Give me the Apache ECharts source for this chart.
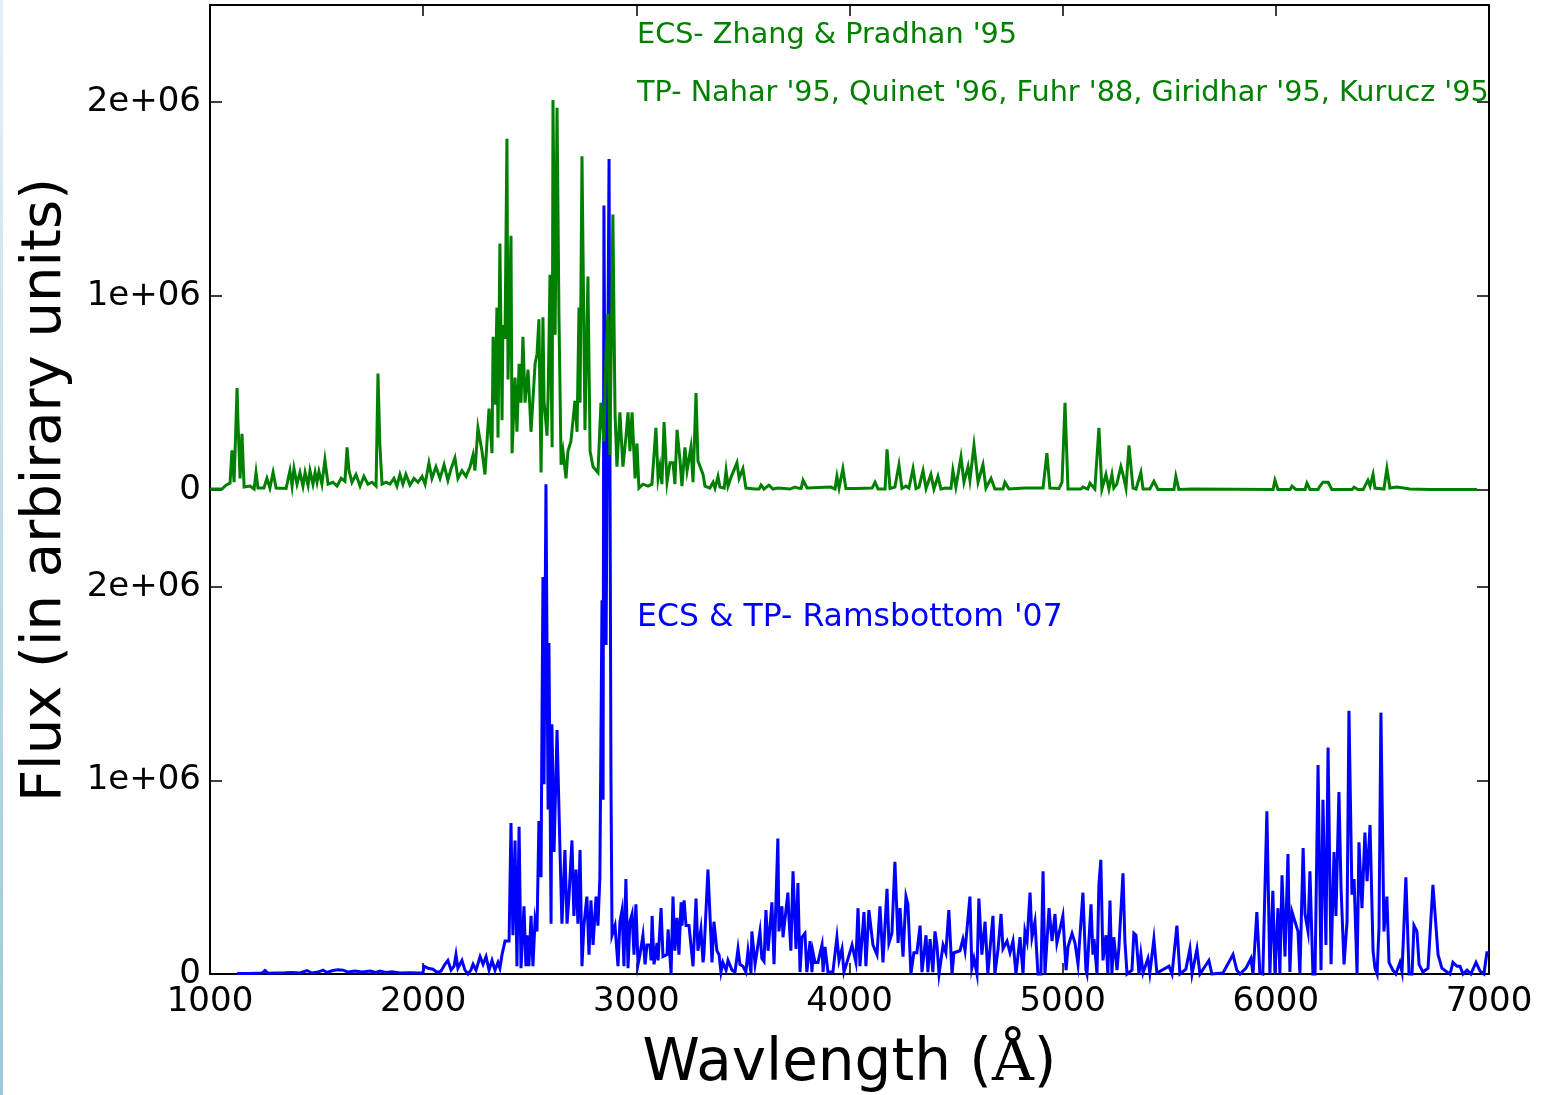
<!DOCTYPE html>
<html>
<head>
<meta charset="utf-8">
<title>Flux vs wavelength</title>
<script src="https://cdn.jsdelivr.net/npm/echarts@6/dist/echarts.min.js"></script>
<style>
  html, body { margin: 0; padding: 0; background: #ffffff; }
  #chart { width: 1545px; height: 1095px; }
</style>
</head>
<body>
<div id="chart"></div>
<script>
// Wavelength axis (Angstrom)
const xMin = 1000, xMax = 7000, xStep = 1000;
// Flux tick values shown on each panel
const fluxTicks = [0, 1e6, 2e6];
const fluxMax = 2.5e6;

// Panel labels
const greenLabels = ["ECS- Zhang & Pradhan '95", "TP- Nahar '95, Quinet '96, Fuhr '88, Giridhar '95, Kurucz '95"];
const blueLabel = "ECS & TP- Ramsbottom '07";

// Upper spectrum: [wavelength, flux]
const greenSpectrum = [
  [1000,5e3],[1056,5e3],[1075,25e3],[1094,35e3],[1103,205e3],[1113,40e3],[1127,525e3],[1131,360e3],[1141,60e3],[1150,290e3],
  [1160,15e3],[1188,20e3],[1207,5e3],[1216,90e3],[1225,10e3],[1253,10e3],[1267,60e3],[1281,10e3],[1296,90e3],[1310,10e3],[1357,8e3],
  [1375,100e3],[1385,20e3],[1394,110e3],[1408,30e3],[1422,90e3],[1436,20e3],[1446,90e3],[1460,25e3],[1469,100e3],[1483,30e3],
  [1493,90e3],[1502,40e3],[1511,95e3],[1525,30e3],[1539,155e3],[1554,30e3],[1577,40e3],[1596,20e3],[1615,60e3],[1633,45e3],
  [1643,220e3],[1652,100e3],[1666,40e3],[1685,80e3],[1704,20e3],[1722,70e3],[1741,30e3],[1760,40e3],[1779,20e3],[1788,600e3],
  [1797,230e3],[1807,30e3],[1826,40e3],[1844,30e3],[1863,60e3],[1877,20e3],[1891,80e3],[1905,30e3],[1919,80e3],[1938,25e3],
  [1957,60e3],[1976,40e3],[1995,70e3],[2009,30e3],[2027,140e3],[2041,60e3],[2060,120e3],[2079,60e3],[2098,130e3],[2116,50e3],
  [2131,110e3],[2149,165e3],[2163,60e3],[2182,100e3],[2201,70e3],[2220,120e3],[2234,180e3],[2243,100e3],[2257,320e3],[2276,200e3],
  [2290,80e3],[2299,90e3],[2309,420e3],[2323,190e3],[2328,790e3],[2337,440e3],[2346,940e3],[2351,270e3],[2360,1270e3],[2370,360e3],
  [2374,850e3],[2384,780e3],[2393,1810e3],[2398,570e3],[2412,1310e3],[2417,190e3],[2431,580e3],[2440,300e3],[2450,650e3],[2459,450e3],
  [2468,790e3],[2478,450e3],[2492,620e3],[2506,300e3],[2525,650e3],[2534,700e3],[2543,880e3],[2553,90e3],[2562,890e3],[2567,460e3],
  [2581,280e3],[2586,480e3],[2595,1110e3],[2605,220e3],[2609,2010e3],[2619,800e3],[2628,1970e3],[2637,900e3],[2647,130e3],[2656,200e3],
  [2670,60e3],[2679,200e3],[2693,250e3],[2712,460e3],[2722,300e3],[2731,940e3],[2736,450e3],[2745,1720e3],[2759,310e3],[2773,1100e3],
  [2783,200e3],[2797,120e3],[2820,90e3],[2834,450e3],[2848,250e3],[2858,710e3],[2867,910e3],[2876,180e3],[2890,1420e3],[2900,400e3],
  [2909,120e3],[2923,400e3],[2937,120e3],[2951,270e3],[2961,400e3],[2970,200e3],[2980,400e3],[2994,60e3],[3003,240e3],[3012,10e3],
  [3031,30e3],[3055,20e3],[3073,30e3],[3092,320e3],[3102,60e3],[3111,120e3],[3120,30e3],[3130,350e3],[3144,40e3],[3158,140e3],
  [3172,140e3],[3181,30e3],[3191,310e3],[3205,150e3],[3214,20e3],[3228,220e3],[3238,100e3],[3256,220e3],[3266,40e3],[3280,500e3],
  [3289,150e3],[3298,160e3],[3313,80e3],[3322,20e3],[3345,10e3],[3360,40e3],[3369,10e3],[3383,70e3],[3392,15e3],[3412,10e3],[3421,100e3],
  [3430,20e3],[3444,65e3],[3453,55e3],[3472,140e3],[3482,60e3],[3500,110e3],[3514,10e3],[3557,5e3],[3576,5e3],[3585,25e3],[3599,5e3],
  [3622,25e3],[3641,5e3],[3664,10e3],[3721,5e3],[3744,15e3],[3758,10e3],[3773,8e3],[3782,50e3],[3801,10e3],[3913,15e3],[3932,5e3],[3941,70e3],
  [3951,10e3],[3969,110e3],[3983,8e3],[4030,8e3],[4106,10e3],[4120,40e3],[4134,5e3],[4167,5e3],[4176,210e3],[4190,8e3],[4213,15e3],
  [4232,130e3],[4246,8e3],[4265,20e3],[4279,10e3],[4298,110e3],[4312,8e3],[4326,15e3],[4345,100e3],[4359,8e3],[4382,80e3],
  [4396,5e3],[4415,70e3],[4429,5e3],[4452,10e3],[4476,8e3],[4485,100e3],[4499,15e3],[4523,170e3],[4537,40e3],[4556,120e3],[4565,50e3],
  [4584,230e3],[4603,40e3],[4626,130e3],[4640,10e3],[4664,60e3],[4682,5e3],[4720,5e3],[4729,40e3],[4748,5e3],[4823,10e3],[4870,10e3],
  [4908,10e3],[4926,190e3],[4940,10e3],[4983,8e3],[4997,40e3],[5011,450e3],[5025,5e3],[5085,5e3],[5095,15e3],[5118,5e3],[5128,35e3],[5151,5e3],
  [5170,320e3],[5184,5e3],[5203,80e3],[5217,5e3],[5231,80e3],[5240,10e3],[5254,30e3],[5273,120e3],[5283,80e3],[5297,10e3],
  [5311,230e3],[5330,10e3],[5344,5e3],[5367,90e3],[5377,5e3],[5409,5e3],[5428,45e3],[5447,3e3],[5522,3e3],[5531,70e3],[5545,3e3],
  [5607,5e3],[5987,3e3],[5996,50e3],[6010,3e3],[6067,3e3],[6076,20e3],[6094,3e3],[6137,3e3],[6146,35e3],[6160,3e3],[6198,3e3],[6207,20e3],[6221,40e3],[6245,40e3],
  [6263,3e3],[6358,3e3],[6367,15e3],[6385,3e3],[6410,3e3],[6418,20e3],[6432,50e3],[6442,20e3],[6456,80e3],[6465,10e3],[6507,5e3],[6521,110e3],
  [6535,10e3],[6568,15e3],[6629,5e3],[6723,3e3],[6944,3e3]
];

// Lower spectrum: [wavelength, flux]
const blueSpectrum = [
  [1127,3e3],[1188,3e3],[1244,5e3],[1258,18e3],[1272,4e3],[1352,6e3],[1385,8e3],[1422,5e3],[1455,18e3],[1478,5e3],
  [1507,10e3],[1530,20e3],[1549,8e3],[1577,18e3],[1600,22e3],[1624,20e3],[1647,10e3],[1680,15e3],[1713,10e3],[1751,15e3],
  [1779,8e3],[1797,15e3],[1826,8e3],[1854,12e3],[1891,5e3],[1938,6e3],[1985,5e3],[1999,5e3],[2004,40e3],[2023,30e3],
  [2046,25e3],[2065,8e3],[2084,15e3],[2102,50e3],[2116,70e3],[2131,20e3],[2145,40e3],[2154,100e3],[2163,30e3],[2182,70e3],
  [2196,20e3],[2210,0],[2224,20e3],[2234,50e3],[2248,20e3],[2267,90e3],[2281,50e3],[2295,90e3],[2309,20e3],[2323,70e3],
  [2337,20e3],[2351,60e3],[2360,30e3],[2370,100e3],[2384,170e3],[2403,170e3],[2412,780e3],[2421,200e3],[2431,690e3],[2440,40e3],
  [2450,760e3],[2459,30e3],[2473,350e3],[2482,40e3],[2487,200e3],[2496,40e3],[2506,300e3],[2515,40e3],[2525,280e3],[2534,220e3],
  [2543,790e3],[2553,500e3],[2557,1230e3],[2562,2050e3],[2567,980e3],[2576,2530e3],[2586,850e3],[2590,1710e3],[2600,260e3],[2604,1290e3],
  [2614,630e3],[2628,1260e3],[2642,630e3],[2651,260e3],[2665,640e3],[2675,260e3],[2684,400e3],[2698,690e3],[2707,300e3],[2717,540e3],
  [2726,260e3],[2736,640e3],[2745,40e3],[2754,250e3],[2768,400e3],[2778,100e3],[2787,380e3],[2797,150e3],[2811,400e3],[2820,250e3],
  [2829,500e3],[2839,1930e3],[2844,900e3],[2848,3970e3],[2858,1700e3],[2872,4210e3],[2881,1000e3],[2886,200e3],[2900,250e3],[2914,40e3],
  [2923,270e3],[2933,330e3],[2942,40e3],[2951,490e3],[2961,30e3],[2970,270e3],[2980,310e3],[2989,100e3],[2998,360e3],[3008,50e3],
  [3017,100e3],[3031,200e3],[3041,50e3],[3050,150e3],[3064,150e3],[3069,70e3],[3074,300e3],[3083,50e3],[3097,160e3],[3102,70e3],
  [3116,340e3],[3125,90e3],[3144,100e3],[3149,230e3],[3163,0],[3172,400e3],[3181,120e3],[3191,290e3],[3200,100e3],[3210,370e3],
  [3214,250e3],[3224,380e3],[3233,250e3],[3247,250e3],[3266,40e3],[3280,390e3],[3289,120e3],[3303,230e3],[3313,60e3],[3317,100e3],
  [3336,540e3],[3346,290e3],[3355,60e3],[3364,270e3],[3378,120e3],[3388,100e3],[3397,10e3],[3406,60e3],[3421,20e3],[3430,70e3],
  [3449,20e3],[3463,10e3],[3477,130e3],[3486,50e3],[3500,40e3],[3514,10e3],[3524,120e3],[3538,5e3],[3542,220e3],[3557,50e3],
  [3566,60e3],[3580,220e3],[3589,80e3],[3599,65e3],[3608,330e3],[3618,120e3],[3636,370e3],[3646,50e3],[3655,50e3],[3664,700e3],
  [3669,220e3],[3683,350e3],[3688,190e3],[3711,420e3],[3716,290e3],[3725,120e3],[3735,530e3],[3749,130e3],[3758,470e3],[3768,10e3],
  [3777,190e3],[3791,210e3],[3800,10e3],[3815,170e3],[3824,10e3],[3829,110e3],[3838,60e3],[3852,60e3],[3871,150e3],[3876,10e3],
  [3885,140e3],[3899,10e3],[3922,10e3],[3941,190e3],[3951,70e3],[3965,130e3],[3974,10e3],[3988,60e3],[4012,150e3],[4030,60e3],
  [4040,340e3],[4049,40e3],[4068,320e3],[4077,40e3],[4091,330e3],[4110,150e3],[4129,100e3],[4143,350e3],[4157,60e3],[4176,440e3],
  [4185,160e3],[4199,210e3],[4213,580e3],[4228,160e3],[4237,340e3],[4251,90e3],[4265,400e3],[4274,360e3],[4288,0],[4302,110e3],
  [4316,110e3],[4331,250e3],[4340,10e3],[4359,200e3],[4368,10e3],[4378,180e3],[4391,10e3],[4401,220e3],[4410,150e3],[4420,0],
  [4439,150e3],[4452,110e3],[4466,330e3],[4481,0],[4490,110e3],[4518,120e3],[4532,180e3],[4542,120e3],[4565,400e3],[4574,30e3],
  [4584,80e3],[4598,0],[4607,390e3],[4621,100e3],[4636,270e3],[4649,0],[4673,300e3],[4682,0],[4697,130e3],[4711,310e3],
  [4720,130e3],[4739,170e3],[4753,110e3],[4767,170e3],[4781,0],[4800,190e3],[4814,0],[4823,220e3],[4833,170e3],[4847,420e3],
  [4856,190e3],[4870,270e3],[4884,0],[4898,0],[4908,530e3],[4917,0],[4936,340e3],[4950,170e3],[4964,310e3],[4973,160e3],
  [4987,230e3],[5001,300e3],[5016,20e3],[5025,140e3],[5044,210e3],[5058,160e3],[5072,50e3],[5095,420e3],[5109,20e3],[5114,0],
  [5133,360e3],[5142,100e3],[5147,180e3],[5156,170e3],[5161,0],[5170,460e3],[5179,590e3],[5189,70e3],[5203,200e3],[5212,0],
  [5222,380e3],[5231,0],[5240,190e3],[5255,20e3],[5264,140e3],[5273,150e3],[5283,520e3],[5292,170e3],[5302,0],[5325,20e3],
  [5334,210e3],[5344,200e3],[5358,0],[5367,100e3],[5377,5e3],[5400,80e3],[5409,5e3],[5428,180e3],[5442,5e3],[5499,40e3],
  [5513,0],[5536,250e3],[5550,0],[5578,25e3],[5597,130e3],[5607,0],[5630,130e3],[5644,0],[5686,70e3],[5700,0],
  [5752,5e3],[5799,100e3],[5817,20e3],[5832,0],[5860,30e3],[5883,80e3],[5893,0],[5911,320e3],[5925,5e3],[5939,0],
  [5958,840e3],[5972,0],[5986,430e3],[5996,0],[6010,340e3],[6019,0],[6029,510e3],[6043,90e3],[6057,620e3],[6066,10e3],
  [6076,320e3],[6090,270e3],[6104,220e3],[6113,0],[6128,650e3],[6137,310e3],[6151,220e3],[6160,530e3],[6174,0],[6184,0],
  [6198,1080e3],[6212,20e3],[6221,900e3],[6235,150e3],[6245,1170e3],[6259,50e3],[6273,630e3],[6282,300e3],[6296,940e3],[6306,440e3],
  [6320,50e3],[6334,270e3],[6343,1360e3],[6357,410e3],[6367,490e3],[6381,0],[6390,680e3],[6404,340e3],[6418,730e3],[6428,480e3],
  [6442,770e3],[6456,120e3],[6465,30e3],[6475,0],[6484,240e3],[6493,1350e3],[6507,220e3],[6521,400e3],[6531,60e3],[6549,20e3],
  [6563,0],[6582,60e3],[6592,10e3],[6610,500e3],[6625,0],[6639,0],[6648,250e3],[6662,220e3],[6672,50e3],[6690,10e3],
  [6714,30e3],[6737,460e3],[6761,100e3],[6779,30e3],[6803,10e3],[6817,0],[6831,60e3],[6850,40e3],[6864,40e3],[6878,0],
  [6897,20e3],[6915,0],[6939,60e3],[6958,15e3],[6976,0],[6990,110e3],[7000,110e3]
];

const FONT = 'DejaVu Sans';
const INK = '#000000';

function fluxLabel(v) {
  return v === 0 ? '0' : (v / 1e6) + 'e+06';
}

function xAxisFor(gridIndex, position, showLabels, extra) {
  return Object.assign({
    type: 'value', gridIndex, position,
    min: xMin, max: xMax, interval: xStep,
    axisLine: { show: true, onZero: false, lineStyle: { color: INK, width: 2 } },
    axisTick: { show: true, inside: true, length: 11, lineStyle: { color: INK, width: 1.5 } },
    axisLabel: { show: showLabels, color: INK, fontFamily: FONT, fontSize: 34, margin: 11,
                 formatter: (v) => String(v) },
    splitLine: { show: false }
  }, extra || {});
}

function yAxisFor(gridIndex, position, showLabels) {
  return {
    type: 'value', gridIndex, position,
    min: 0, max: fluxMax,
    axisLine: { show: true, onZero: false, lineStyle: { color: INK, width: 2 } },
    axisTick: { show: true, inside: true, length: 12, customValues: fluxTicks, lineStyle: { color: INK, width: 1.5 } },
    axisLabel: { show: showLabels, customValues: fluxTicks, formatter: fluxLabel,
                 color: INK, fontFamily: FONT, fontSize: 34, margin: 9 },
    splitLine: { show: false }
  };
}

const chart = echarts.init(document.getElementById('chart'), null, { renderer: 'canvas', width: 1545, height: 1095 });

chart.setOption({
  animation: false,
  backgroundColor: '#ffffff',
  grid: [
    { left: 210, right: 56, top: 5, height: 485 },
    { left: 210, right: 56, top: 490, height: 486 }
  ],
  xAxis: [
    xAxisFor(0, 'top', false),
    xAxisFor(1, 'bottom', true, {
      name: '{t|Wavlength (}{s|Å}{t|)}',
      nameLocation: 'middle',
      nameGap: 62,
      nameTextStyle: {
        rich: {
          t: { fontFamily: FONT, fontSize: 58, color: INK },
          s: { fontFamily: 'DejaVu Serif', fontSize: 58, color: INK }
        }
      }
    })
  ],
  yAxis: [
    yAxisFor(0, 'left', true),
    yAxisFor(0, 'right', false),
    yAxisFor(1, 'left', true),
    yAxisFor(1, 'right', false)
  ],
  graphic: [
    {
      type: 'rect', left: 0, top: 0, z: 100,
      shape: { width: 3, height: 1095 },
      style: { fill: new echarts.graphic.LinearGradient(0, 0, 0, 1, [
        { offset: 0, color: '#e4f0f5' }, { offset: 1, color: '#9cc8d8' }
      ]) }
    },
    {
      type: 'text', x: 45, y: 490, rotation: Math.PI / 2, z: 100,
      style: { text: 'Flux (in arbirary units)', fontFamily: FONT, fontSize: 56,
               fill: INK, align: 'center', verticalAlign: 'middle' }
    },
    {
      type: 'text', x: 637, y: 36, z: 100,
      style: { text: greenLabels[0], fontFamily: FONT, fontSize: 28.7,
               fill: '#008000', align: 'left', verticalAlign: 'middle' }
    },
    {
      type: 'text', x: 637, y: 94, z: 100,
      style: { text: greenLabels[1], fontFamily: FONT, fontSize: 28.7,
               fill: '#008000', align: 'left', verticalAlign: 'middle' }
    },
    {
      type: 'text', x: 637, y: 618, z: 100,
      style: { text: blueLabel, fontFamily: FONT, fontSize: 31.5,
               fill: '#0000ff', align: 'left', verticalAlign: 'middle' }
    }
  ],
  series: [
    {
      type: 'line', name: 'ECS & TP- Ramsbottom', xAxisIndex: 1, yAxisIndex: 2,
      data: blueSpectrum, showSymbol: false, symbol: 'none', clip: false, z: 2,
      lineStyle: { color: '#0000ff', width: 3, join: 'miter' }
    },
    {
      type: 'line', name: 'ECS Zhang & Pradhan', xAxisIndex: 0, yAxisIndex: 0,
      data: greenSpectrum, showSymbol: false, symbol: 'none', clip: false, z: 3,
      lineStyle: { color: '#008000', width: 3, join: 'miter' }
    }
  ]
});
</script>
</body>
</html>
